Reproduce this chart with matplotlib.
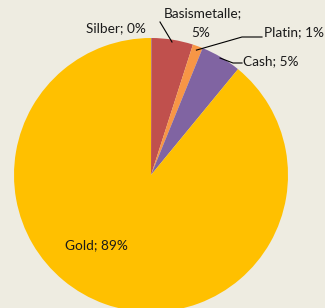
import matplotlib.pyplot as plt
import numpy as np

labels = ['Silber', 'Basismetalle', 'Platin', 'Cash', 'Gold']
values = [0.05, 4.9, 1.2, 4.8, 89.05]
pct_text = ['0%', '5%', '1%', '5%', '89%']
colors = ['#4F81BD', '#C0504D', '#F79646', '#8064A2', '#FFC000']
bg = '#EEECE1'

plt.rcParams['font.family'] = ['Lato', 'DejaVu Sans']

fig = plt.figure(figsize=(3.25, 3.08), dpi=100, facecolor=bg)
ax = fig.add_axes([0, 0, 1, 1])
ax.set_facecolor(bg)

wedges, _ = ax.pie(values, colors=colors, startangle=90, counterclock=False,
                   radius=1, center=(0, 0), wedgeprops=dict(linewidth=0))


def px(x, y):
    # pixel position -> data coords (center 151,175, radius 137 px)
    return (x - 151) / 137.0, (175 - y) / 137.0


def edge_point(w, r=0.97):
    a = np.deg2rad((w.theta1 + w.theta2) / 2)
    return r * np.cos(a), r * np.sin(a)


fs = 9.8
tc = '#1a1a1a'

# Silber
ax.text(*px(116, 28), labels[0] + '; ' + pct_text[0], ha='center', va='center',
        fontsize=fs, color=tc)

# Basismetalle
ax.text(*px(203, 13), labels[1] + ';', ha='center', va='center', fontsize=fs, color=tc)
ax.text(*px(201, 33), pct_text[1], ha='center', va='center', fontsize=fs, color=tc)
p0 = px(172, 42)
p1 = px(160, 22)
ax.plot([p1[0], p0[0]], [p1[1], p0[1]], color='black', lw=0.8)

# Platin
ax.text(*px(264, 32), labels[2] + '; ' + pct_text[2], ha='left', va='center',
        fontsize=fs, color=tc)
p0 = edge_point(wedges[2], 0.97)
pa = px(242, 37)
pb = px(262, 37)
ax.plot([p0[0], pa[0], pb[0]], [p0[1], pa[1], pb[1]], color='black', lw=0.8)

# Cash
ax.text(*px(243, 61), labels[3] + '; ' + pct_text[3], ha='left', va='center',
        fontsize=fs, color=tc)
p0 = px(220, 58)
pa = px(233, 63)
pb = px(242, 63)
ax.plot([p0[0], pa[0], pb[0]], [p0[1], pa[1], pb[1]], color='black', lw=0.8)

# Gold
ax.text(*px(96, 245), labels[4] + '; ' + pct_text[4], ha='center', va='center',
        fontsize=fs, color=tc)

ax.set_xlim(px(0, 0)[0], px(325, 0)[0])
ax.set_ylim(px(0, 308)[1], px(0, 0)[1])
ax.set_aspect('auto')
ax.axis('off')

fig.savefig('out.png', dpi=100, facecolor=bg)
